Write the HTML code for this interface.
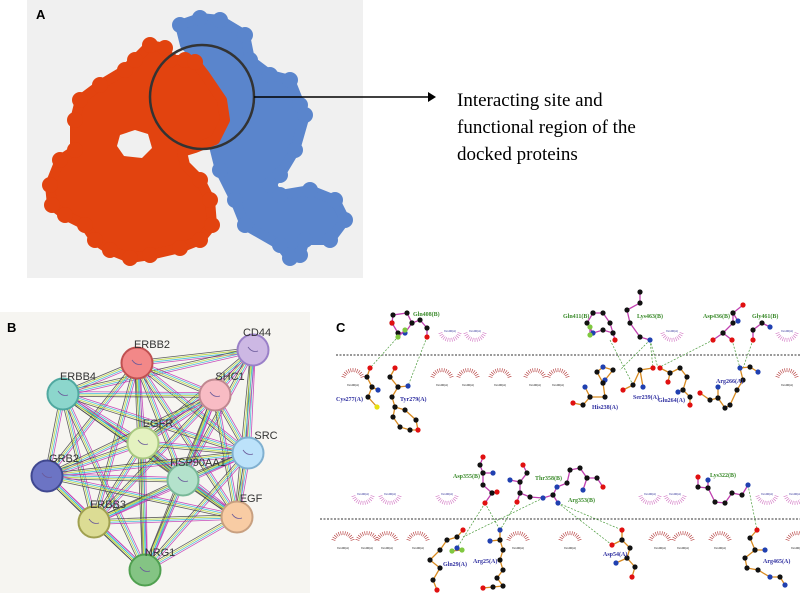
<!DOCTYPE html>
<html><head><meta charset="utf-8"><style>
html,body{margin:0;padding:0;background:#fff;width:800px;height:593px;overflow:hidden}
svg{display:block}
</style></head><body>
<svg id="s" width="800" height="593" viewBox="0 0 800 593" xmlns="http://www.w3.org/2000/svg" font-family="Liberation Sans, sans-serif">
<rect x="27" y="0" width="336" height="278" fill="#f0f0f0"/>
<polygon points="180,25 200,18 220,20 245,35 250,60 270,75 290,80 300,105 305,115 295,150 280,175 270,185 280,195 310,190 335,200 345,220 330,240 305,240 300,255 290,258 280,245 245,225 235,200 220,170 215,150 210,120 200,60 185,45" fill="#5a85cc" stroke="#5a85cc" stroke-width="10" stroke-linejoin="round"/>
<g id="blue" fill="#5a85cc"></g>
<polygon points="150,45 165,48 170,60 185,60 195,62 205,75 222,100 225,120 215,140 195,148 182,152 185,165 200,180 210,200 212,225 200,240 180,248 150,255 130,258 110,250 95,240 85,225 65,215 52,205 50,185 60,160 75,150 75,120 80,100 100,85 125,70 135,60" fill="#e2430f" stroke="#e2430f" stroke-width="10" stroke-linejoin="round"/>
<g id="red" fill="#e2430f"></g>
<polygon points="120,135 135,130 148,134 152,148 142,158 124,156 117,146" fill="#f0f0f0"/>
<circle cx="202" cy="97" r="52" fill="none" stroke="#333" stroke-width="2.5"/>
<line x1="254" y1="97" x2="428" y2="97" stroke="#000" stroke-width="1.5"/>
<polygon points="428,92 436,97 428,102" fill="#000"/>
<text x="36" y="19" font-size="13" font-weight="bold">A</text>
<g font-family="Liberation Serif, serif" font-size="19" fill="#000">
<text x="457" y="106">Interacting site and</text>
<text x="457" y="133">functional region of the</text>
<text x="457" y="160">docked proteins</text>
</g>
<rect x="0" y="312" width="310" height="281" fill="#f6f5f1"/>
<text x="7" y="332" font-size="13" font-weight="bold">B</text>
<g id="edges"></g>
<g id="nodes" font-size="11" fill="#333"></g>
<text x="336" y="332" font-size="13" font-weight="bold">C</text>
<line x1="336" y1="355" x2="800" y2="355" stroke="#333" stroke-dasharray="2,1.5" stroke-width="1"/>
<line x1="320" y1="519" x2="800" y2="519" stroke="#333" stroke-dasharray="2,1.5" stroke-width="1"/>
<g id="arcs"></g>
<g id="hb" stroke="#4a9a3a" stroke-width="0.7" stroke-dasharray="2,1.5" fill="none"></g>
<g id="mol"></g>
<g id="lab" font-family="Liberation Serif, serif" font-size="6" font-weight="bold"></g>
</svg>
<script>
var NS="http://www.w3.org/2000/svg";
function el(p,t,a,txt){var e=document.createElementNS(NS,t);for(var k in a)e.setAttribute(k,a[k]);if(txt)e.textContent=txt;document.getElementById(p).appendChild(e);return e;}
var bo=[[180,25],[200,18],[220,20],[245,35],[250,60],[270,75],[290,80],[300,105],[305,115],[295,150],[280,175],[270,185],[280,195],[310,190],[335,200],[345,220],[330,240],[305,240],[300,255],[290,258],[280,245],[245,225],[235,200],[220,170]];
bo.forEach(function(p){el("blue","circle",{cx:p[0],cy:p[1],r:8});});
var ro=[[150,45],[165,48],[170,60],[185,60],[195,62],[130,258],[110,250],[95,240],[85,225],[65,215],[52,205],[50,185],[60,160],[75,150],[75,120],[80,100],[100,85],[125,70],[135,60],[150,255],[180,248],[200,240],[212,225],[210,200],[200,180]];
ro.forEach(function(p){el("red","circle",{cx:p[0],cy:p[1],r:8});});
// Panel B
var N={CD44:[253,350,"#cdb8e4","#9a80c8",[257,336]],ERBB2:[137,363,"#f28888","#c05050",[152,348]],ERBB4:[63,394,"#8cd6cc","#50a8a0",[78,380]],SHC1:[215,395,"#f8bcc4","#c08890",[230,380]],EGFR:[143,443,"#e4f2c0","#a8c880",[158,427]],SRC:[248,453,"#bce2fa","#80b0d0",[266,439]],GRB2:[47,476,"#6c74c4","#404890",[64,462]],HSP90AA1:[183,480,"#b4e2cc","#78b898",[198,466]],EGF:[237,517,"#f8cca4","#c8a080",[251,502]],ERBB3:[94,522,"#dcdc94","#a0a050",[108,508]],NRG1:[145,570,"#84c484","#50a050",[160,556]]};
var names=Object.keys(N);var cols=["#c030b0","#30b8d8","#b8d830","#444"];
for(var i=0;i<names.length;i++)for(var j=i+1;j<names.length;j++){
 if((names[i]=="CD44"&&["GRB2","NRG1","ERBB3"].indexOf(names[j])>=0))continue;
 var a=N[names[i]],b=N[names[j]],dx=b[0]-a[0],dy=b[1]-a[1],L=Math.hypot(dx,dy),nx=-dy/L,ny=dx/L;
 for(var k=0;k<4;k++){var o=(k-1.5)*1.6;el("edges","line",{x1:a[0]+nx*o,y1:a[1]+ny*o,x2:b[0]+nx*o,y2:b[1]+ny*o,stroke:cols[k],"stroke-width":0.8,opacity:0.85});}
}
names.forEach(function(n){var a=N[n];el("nodes","circle",{cx:a[0],cy:a[1],r:15.5,fill:a[2],stroke:a[3],"stroke-width":2});
el("nodes","path",{d:"M"+(a[0]-5)+" "+(a[1]-3)+"q4 6 10 4",stroke:"#6a5a9a","stroke-width":0.8,fill:"none"});
el("nodes","text",{x:a[4][0],y:a[4][1],"text-anchor":"middle"},n);});
function arc(x,y,col,up){var d="";for(var t=0;t<=12;t++){var an=Math.PI*(0.1+0.8*t/12);var cx=x-Math.cos(an)*8,cy=y+(up?Math.sin(an)*8:-Math.sin(an)*8);var ox=x-Math.cos(an)*12,oy=y+(up?Math.sin(an)*12:-Math.sin(an)*12);d+="M"+cx.toFixed(1)+" "+cy.toFixed(1)+"L"+ox.toFixed(1)+" "+oy.toFixed(1);}
el("arcs","path",{d:d,stroke:col,"stroke-width":0.6,fill:"none"});el("arcs","text",{x:x,y:y+(up?2:6),"font-size":3,"text-anchor":"middle",fill:up?"#333399":"#222"},"Xxx00(A)");}
[450,475,672,787].forEach(function(x){arc(x,330,"#d070c0",true);});
[353,442,468,500,535,558,787].forEach(function(x){arc(x,380,"#b03030",false);});
[363,390,447,650,675,767,795].forEach(function(x){arc(x,493,"#d070c0",true);});
[343,367,387,418,518,570,660,683,720,797].forEach(function(x){arc(x,543,"#b03030",false);});
[[396,339,370,368],[427,337,408,386],[610,340,633,385],[650,340,620,370],[650,340,653,368],[650,340,658,368],[713,340,658,368],[732,340,740,368],[753,340,743,368],
[485,503,457,548],[485,503,500,530],[517,502,500,530],[543,498,463,537],[558,503,622,530],[558,503,612,545],[748,485,757,530]].forEach(function(l){el("hb","line",{x1:l[0],y1:l[1],x2:l[2],y2:l[3]});});
function chain(pts,bond){var d="M"+pts.map(function(p){return p[0]+" "+p[1];}).join("L");el("mol","path",{d:d,stroke:bond,"stroke-width":1.3,fill:"none"});
pts.forEach(function(p){var c=p[2]=="r"?"#e01010":p[2]=="b"?"#2040b0":p[2]=="y"?"#e8e010":p[2]=="g"?"#80c840":"#111";el("mol","circle",{cx:p[0],cy:p[1],r:2.6,fill:c});});}
var M="#c040b0",O="#d88a20";
chain([[392,323],[393,315],[407,313],[412,323],[405,333,"b"],[398,333],[392,323,"r"]],M);chain([[412,323],[420,320],[427,328],[427,337,"r"]],M);chain([[398,337,"g"],[405,330,"g"]],M);
chain([[370,368,"r"],[367,377],[372,387],[378,390,"b"],[372,387],[368,397],[377,407,"y"]],O);
chain([[395,368,"r"],[390,377],[398,387],[408,386,"b"],[398,387],[392,397],[395,407],[393,417],[400,427],[410,430],[418,430,"r"],[416,420],[405,410],[395,407]],O);
chain([[593,313],[587,323],[593,333,"b"],[603,330],[613,333],[615,340,"r"],[613,333],[610,323],[603,313],[593,313]],M);chain([[590,327,"g"],[590,335,"g"]],M);
chain([[640,292],[640,303],[627,310],[630,323],[640,337],[650,340,"b"]],M);
chain([[743,305,"r"],[733,313],[733,323],[723,333],[713,340,"r"],[723,333],[732,340,"r"]],M);chain([[738,321,"b"],[733,313]],M);
chain([[770,327,"b"],[762,323],[753,330],[753,340,"r"]],M);
chain([[573,403,"r"],[583,405],[590,397],[585,387,"b"],[590,397],[605,397],[603,383],[597,372],[603,367,"b"],[613,370],[605,380,"b"],[603,383]],O);
chain([[623,390,"r"],[633,385],[640,370],[653,368,"r"],[640,370],[643,387,"b"]],O);
chain([[660,368,"r"],[670,373],[680,368],[687,377],[683,390],[690,397],[690,405,"r"]],O);chain([[668,382,"r"],[670,373]],O);chain([[678,392,"b"],[683,390]],O);
chain([[700,393,"r"],[710,400],[718,398],[725,408],[730,405],[737,390],[743,380],[740,368,"b"],[750,367],[758,372,"b"]],O);chain([[718,387,"b"],[718,398]],O);
chain([[483,457,"r"],[480,465],[483,473],[493,473,"b"],[483,473],[483,485],[492,493],[497,492,"r"],[492,493],[485,503,"r"]],M);
chain([[523,465,"r"],[527,473],[520,482],[510,480,"b"],[520,482],[520,493],[517,502,"r"],[520,493],[530,497],[543,498,"b"],[553,495],[557,487,"b"],[567,483],[570,470],[580,468],[587,478],[583,490,"b"],[587,478],[597,478],[603,487,"r"]],M);chain([[553,495],[558,503,"b"]],M);
chain([[698,477,"r"],[698,487],[708,488],[715,502],[725,503],[732,493],[742,495],[748,485,"b"]],M);chain([[708,488],[708,480,"b"]],M);
chain([[463,530,"r"],[457,537],[447,540],[440,550],[430,560],[440,568],[433,580],[437,590,"r"]],O);chain([[452,551,"g"],[462,550,"g"],[457,548,"b"]],O);
chain([[500,530,"b"],[500,540],[490,541,"b"],[500,540],[503,550],[500,560],[503,570],[497,578],[503,586],[493,587],[483,588,"r"]],O);
chain([[622,530,"r"],[622,540],[612,545,"r"],[622,540],[630,548],[627,558],[616,563,"b"],[627,558],[635,567],[632,577,"r"]],O);
chain([[757,530,"r"],[750,538],[755,550],[765,550,"b"],[755,550],[745,558],[747,568],[758,570],[770,577,"b"],[780,577],[785,585,"b"]],O);
var G="#3a8a2a",B="#3030a0";
[["Gln408(B)",413,316,G],["Gln411(B)",563,318,G],["Lys463(B)",637,318,G],["Asp436(B)",703,318,G],["Gly461(B)",752,318,G],["Cys277(A)",336,401,B],["Tyr279(A)",400,401,B],["His238(A)",592,409,B],["Ser239(A)",633,399,B],["Glu264(A)",658,402,B],["Arg266(A)",716,383,B],
["Asp355(B)",453,478,G],["Thr358(B)",535,480,G],["Arg353(B)",568,502,G],["Lys322(B)",710,477,G],["Gln29(A)",443,566,B],["Arg25(A)",473,563,B],["Asp54(A)",603,556,B],["Arg465(A)",763,563,B]].forEach(function(l){el("lab","text",{x:l[1],y:l[2],fill:l[3]},l[0]);});
</script>
</body></html>
